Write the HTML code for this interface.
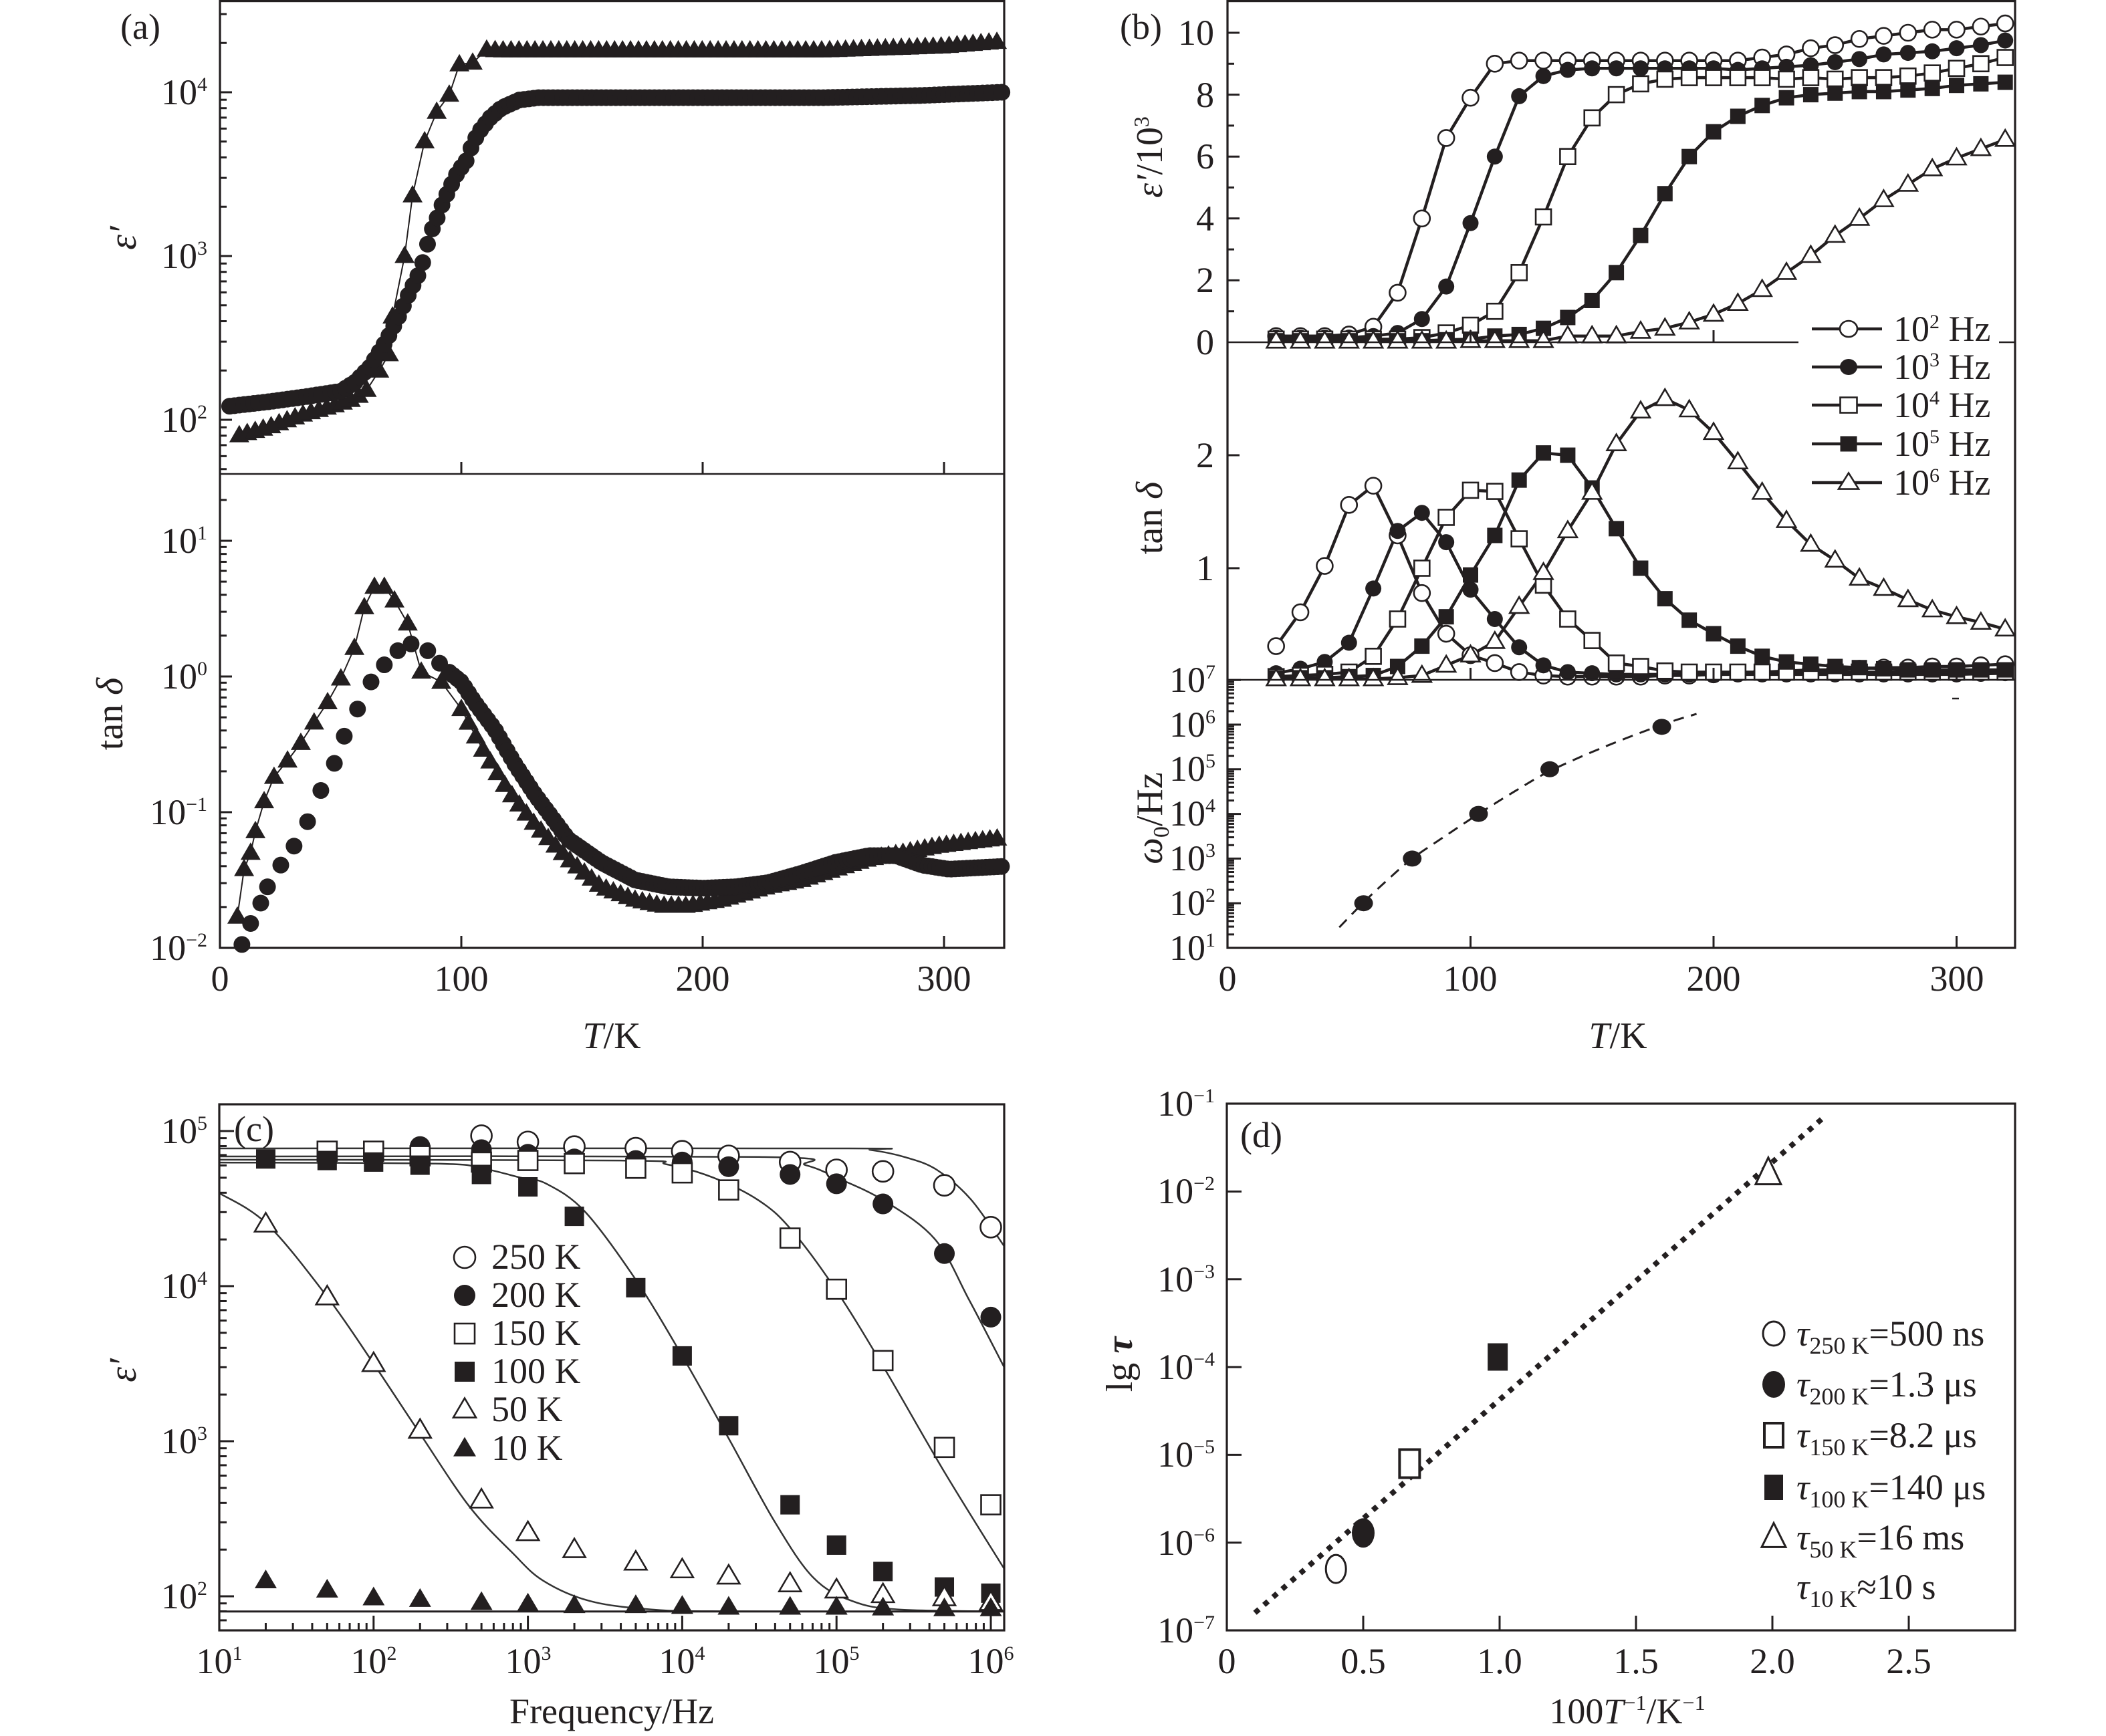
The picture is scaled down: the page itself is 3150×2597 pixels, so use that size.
<!DOCTYPE html>
<html><head><meta charset="utf-8">
<style>html,body{margin:0;padding:0;background:#fff;}svg{display:block;}</style>
</head>
<body>
<svg id="svg" xmlns="http://www.w3.org/2000/svg" width="3150" height="2597" viewBox="0 0 3150 2597" xml:space="preserve" font-family="'Liberation Serif','Times New Roman',serif" fill="#231f20">
<rect width="3150" height="2597" fill="#fff"/>
<g id="data"></g>
<g id="ticks"></g>
<g id="frames" fill="none" stroke="#231f20" stroke-width="3.2">
<rect x="329" y="1.6" width="1173" height="1416.4"/>
<line x1="329" y1="709" x2="1502" y2="709" stroke-width="2.6"/>
<rect x="1836" y="1.6" width="1178" height="1416.4"/>
<line x1="1836" y1="512" x2="3014" y2="512" stroke-width="2.6"/>
<line x1="1836" y1="1017" x2="3014" y2="1017" stroke-width="2.6"/>
<rect x="328" y="1652" width="1174" height="787"/>
<rect x="1835" y="1651" width="1179" height="788"/>
</g>
<g id="legend"></g>
<g id="text" font-size="54">
<!-- panel a -->
<text x="180" y="58">(a)</text>
<text x="329" y="1482" text-anchor="middle">0</text>
<text x="690" y="1482" text-anchor="middle">100</text>
<text x="1051" y="1482" text-anchor="middle">200</text>
<text x="1412" y="1482" text-anchor="middle">300</text>
<text x="310" y="156" text-anchor="end">10<tspan font-size="30" dy="-20">4</tspan></text>
<text x="310" y="401" text-anchor="end">10<tspan font-size="30" dy="-20">3</tspan></text>
<text x="310" y="646" text-anchor="end">10<tspan font-size="30" dy="-20">2</tspan></text>
<text x="310" y="827" text-anchor="end">10<tspan font-size="30" dy="-20">1</tspan></text>
<text x="310" y="1030" text-anchor="end">10<tspan font-size="30" dy="-20">0</tspan></text>
<text x="310" y="1233" text-anchor="end">10<tspan font-size="30" dy="-20">−1</tspan></text>
<text x="310" y="1436" text-anchor="end">10<tspan font-size="30" dy="-20">−2</tspan></text>
<text transform="translate(203,356) rotate(-90)" text-anchor="middle" font-size="58" font-style="italic">ε′</text>
<text transform="translate(183,1068) rotate(-90)" text-anchor="middle" font-size="56">tan <tspan font-style="italic">δ</tspan></text>
<text x="915" y="1568" text-anchor="middle" font-size="56"><tspan font-style="italic">T</tspan>/K</text>
<!-- panel b -->
<text x="1675" y="58">(b)</text>
<text x="1836" y="1482" text-anchor="middle">0</text>
<text x="2199" y="1482" text-anchor="middle">100</text>
<text x="2563" y="1482" text-anchor="middle">200</text>
<text x="2927" y="1482" text-anchor="middle">300</text>
<text x="1816" y="67" text-anchor="end">10</text>
<text x="1816" y="160" text-anchor="end">8</text>
<text x="1816" y="252" text-anchor="end">6</text>
<text x="1816" y="345" text-anchor="end">4</text>
<text x="1816" y="437" text-anchor="end">2</text>
<text x="1816" y="530" text-anchor="end">0</text>
<text x="1816" y="699" text-anchor="end">2</text>
<text x="1816" y="868" text-anchor="end">1</text>
<text x="1818" y="1035" text-anchor="end">10<tspan font-size="30" dy="-20">7</tspan></text>
<text x="1818" y="1102" text-anchor="end">10<tspan font-size="30" dy="-20">6</tspan></text>
<text x="1818" y="1168" text-anchor="end">10<tspan font-size="30" dy="-20">5</tspan></text>
<text x="1818" y="1235" text-anchor="end">10<tspan font-size="30" dy="-20">4</tspan></text>
<text x="1818" y="1302" text-anchor="end">10<tspan font-size="30" dy="-20">3</tspan></text>
<text x="1818" y="1369" text-anchor="end">10<tspan font-size="30" dy="-20">2</tspan></text>
<text x="1818" y="1436" text-anchor="end">10<tspan font-size="30" dy="-20">1</tspan></text>
<text transform="translate(1738,235) rotate(-90)" text-anchor="middle" font-size="56"><tspan font-style="italic">ε′</tspan>/10<tspan font-size="32" dy="-20">3</tspan></text>
<text transform="translate(1738,775) rotate(-90)" text-anchor="middle" font-size="56">tan <tspan font-style="italic">δ</tspan></text>
<text transform="translate(1738,1224) rotate(-90)" text-anchor="middle" font-size="56"><tspan font-style="italic">ω</tspan><tspan font-size="34" dy="10">0</tspan><tspan dy="-10">/Hz</tspan></text>
<text x="2420" y="1568" text-anchor="middle" font-size="56"><tspan font-style="italic">T</tspan>/K</text>
<text x="2832" y="510">10<tspan font-size="30" dy="-19">2</tspan><tspan dy="19"> Hz</tspan></text>
<text x="2832" y="567">10<tspan font-size="30" dy="-19">3</tspan><tspan dy="19"> Hz</tspan></text>
<text x="2832" y="624">10<tspan font-size="30" dy="-19">4</tspan><tspan dy="19"> Hz</tspan></text>
<text x="2832" y="682">10<tspan font-size="30" dy="-19">5</tspan><tspan dy="19"> Hz</tspan></text>
<text x="2832" y="740">10<tspan font-size="30" dy="-19">6</tspan><tspan dy="19"> Hz</tspan></text>
<!-- panel c -->
<text x="350" y="1707">(c)</text>
<text x="328" y="2503" text-anchor="middle">10<tspan font-size="30" dy="-20">1</tspan></text>
<text x="559" y="2503" text-anchor="middle">10<tspan font-size="30" dy="-20">2</tspan></text>
<text x="790" y="2503" text-anchor="middle">10<tspan font-size="30" dy="-20">3</tspan></text>
<text x="1020" y="2503" text-anchor="middle">10<tspan font-size="30" dy="-20">4</tspan></text>
<text x="1251" y="2503" text-anchor="middle">10<tspan font-size="30" dy="-20">5</tspan></text>
<text x="1482" y="2503" text-anchor="middle">10<tspan font-size="30" dy="-20">6</tspan></text>
<text x="310" y="1710" text-anchor="end">10<tspan font-size="30" dy="-20">5</tspan></text>
<text x="310" y="1942" text-anchor="end">10<tspan font-size="30" dy="-20">4</tspan></text>
<text x="310" y="2174" text-anchor="end">10<tspan font-size="30" dy="-20">3</tspan></text>
<text x="310" y="2406" text-anchor="end">10<tspan font-size="30" dy="-20">2</tspan></text>
<text transform="translate(203,2050) rotate(-90)" text-anchor="middle" font-size="58" font-style="italic">ε′</text>
<text x="915" y="2578" text-anchor="middle">Frequency/Hz</text>
<text x="735" y="1898">250 K</text>
<text x="735" y="1955">200 K</text>
<text x="735" y="2012">150 K</text>
<text x="735" y="2069">100 K</text>
<text x="735" y="2126">50 K</text>
<text x="735" y="2184">10 K</text>
<!-- panel d -->
<text x="1855" y="1716">(d)</text>
<text x="1835" y="2503" text-anchor="middle">0</text>
<text x="2039" y="2503" text-anchor="middle">0.5</text>
<text x="2243" y="2503" text-anchor="middle">1.0</text>
<text x="2447" y="2503" text-anchor="middle">1.5</text>
<text x="2651" y="2503" text-anchor="middle">2.0</text>
<text x="2855" y="2503" text-anchor="middle">2.5</text>
<text x="1817" y="1669" text-anchor="end">10<tspan font-size="30" dy="-20">−1</tspan></text>
<text x="1817" y="1800" text-anchor="end">10<tspan font-size="30" dy="-20">−2</tspan></text>
<text x="1817" y="1932" text-anchor="end">10<tspan font-size="30" dy="-20">−3</tspan></text>
<text x="1817" y="2063" text-anchor="end">10<tspan font-size="30" dy="-20">−4</tspan></text>
<text x="1817" y="2194" text-anchor="end">10<tspan font-size="30" dy="-20">−5</tspan></text>
<text x="1817" y="2326" text-anchor="end">10<tspan font-size="30" dy="-20">−6</tspan></text>
<text x="1817" y="2457" text-anchor="end">10<tspan font-size="30" dy="-20">−7</tspan></text>
<text transform="translate(1693,2041) rotate(-90)" text-anchor="middle" font-size="56">lg <tspan font-style="italic" font-weight="bold">τ</tspan></text>
<text x="2434" y="2578" text-anchor="middle">100<tspan font-style="italic">T</tspan><tspan font-size="32" dy="-20">−1</tspan><tspan dy="20">/K</tspan><tspan font-size="32" dy="-20">−1</tspan></text>
<text x="2687" y="2013"><tspan font-style="italic">τ</tspan><tspan font-size="36" dy="12">250 K</tspan><tspan dy="-12">=500 ns</tspan></text>
<text x="2687" y="2089"><tspan font-style="italic">τ</tspan><tspan font-size="36" dy="12">200 K</tspan><tspan dy="-12">=1.3 μs</tspan></text>
<text x="2687" y="2165"><tspan font-style="italic">τ</tspan><tspan font-size="36" dy="12">150 K</tspan><tspan dy="-12">=8.2 μs</tspan></text>
<text x="2687" y="2243"><tspan font-style="italic">τ</tspan><tspan font-size="36" dy="12">100 K</tspan><tspan dy="-12">=140 μs</tspan></text>
<text x="2687" y="2318"><tspan font-style="italic">τ</tspan><tspan font-size="36" dy="12">50 K</tspan><tspan dy="-12">=16 ms</tspan></text>
<text x="2687" y="2392"><tspan font-style="italic">τ</tspan><tspan font-size="36" dy="12">10 K</tspan><tspan dy="-12">≈10 s</tspan></text>
</g>
</svg>
<script>
(function(){
const NS='http://www.w3.org/2000/svg', INK='#231f20';
const D=document.getElementById('data'), L=document.getElementById('legend'), TK=document.getElementById('ticks');
function E(t,a,p){const e=document.createElementNS(NS,t);for(const k in a)e.setAttribute(k,a[k]);p.appendChild(e);return e;}
function ln(p,x1,y1,x2,y2,w,c){E('line',{x1:x1,y1:y1,x2:x2,y2:y2,stroke:c||INK,'stroke-width':w||3},p);}
function mk(p,type,x,y,s,h,sw){
  const open=type[0]==='o', sh=type[1];
  h=h||s;
  const a={fill:open?'#fff':INK,stroke:open?INK:'none','stroke-width':open?(sw||2.6):0};
  if(sh==='c'){a.cx=x;a.cy=y;a.rx=s/2;a.ry=h/2;E('ellipse',a,p);}
  else if(sh==='s'){a.x=x-s/2;a.y=y-h/2;a.width=s;a.height=h;E('rect',a,p);}
  else {a.points=x+','+(y-h*0.6)+' '+(x+s/2)+','+(y+h*0.4)+' '+(x-s/2)+','+(y+h*0.4);E('polygon',a,p);}
}
function interp(P,x){if(x<=P[0][0])return P[0][1];for(let i=1;i<P.length;i++){if(x<=P[i][0]){const a=P[i-1],b=P[i];return a[1]+(b[1]-a[1])*(x-a[0])/(b[0]-a[0]);}}return P[P.length-1][1];}
function cr(P){let d='M'+P[0][0]+','+P[0][1];for(let i=0;i<P.length-1;i++){const p0=P[i-1]||P[i],p1=P[i],p2=P[i+1],p3=P[i+2]||P[i+1];d+=' C'+(p1[0]+(p2[0]-p0[0])/6)+','+(p1[1]+(p2[1]-p0[1])/6)+' '+(p2[0]-(p3[0]-p1[0])/6)+','+(p2[1]-(p3[1]-p1[1])/6)+' '+p2[0]+','+p2[1];}return d;}
function pl(p,pts,w){return E('polyline',{points:pts.map(q=>q[0].toFixed(1)+','+q[1].toFixed(1)).join(' '),fill:'none',stroke:INK,'stroke-width':w,'stroke-linejoin':'round'},p);}
function logTicksY(x,yf,lo,hi,Lmaj,Lmin){for(let d=Math.floor(lo);d<=Math.ceil(hi);d++){for(let m=1;m<=9;m++){const l=d+Math.log10(m);if(l<lo-1e-6||l>hi+1e-6)continue;const y=yf(l);ln(TK,x,y,x+(m===1?Lmaj:Lmin),y,3);}}}
function logTicksX(y,xf,lo,hi,Lmaj,Lmin){for(let d=Math.floor(lo);d<=Math.ceil(hi);d++){for(let m=1;m<=9;m++){const l=d+Math.log10(m);if(l<lo-1e-6||l>hi+1e-6)continue;const x=xf(l);ln(TK,x,y,x,y-(m===1?Lmaj:Lmin),3);}}}

/* ---------- panel a ---------- */
const xa=T=>329+3.61*T, yaU=l=>138+(4-l)*245, yaL=l=>1418-(l+2)*203;
logTicksY(329,yaU,1.69,4.54,18,10);
logTicksY(329,yaL,-1.99,1.47,18,10);
[100,200,300].forEach(T=>{ln(TK,xa(T),1418,xa(T),1400,3);ln(TK,xa(T),709,xa(T),691,3);});
const AcU=[[4,2.083],[20,2.11],[35,2.14],[50,2.174],[56,2.23],[62,2.32],[69,2.485],[74,2.63],[78.5,2.776],[82,2.88],[85,3.0],[86.7,3.123],[89.8,3.225],[92.5,3.331],[95.8,3.433],[98.6,3.515],[101.9,3.577],[104.7,3.687],[107.5,3.761],[111.9,3.843],[116.6,3.904],[124.1,3.953],[132,3.967],[250,3.967],[290,3.98],[324,4.0]];
const AtU=[[8,1.905],[20,1.954],[34,2.03],[48,2.09],[56,2.13],[62,2.195],[66,2.3],[70,2.40],[71.5,2.63],[76.5,3.0],[79.8,3.37],[84.8,3.70],[89.8,3.88],[95,3.985],[99.2,4.17],[104.7,4.18],[110.5,4.26],[116,4.255],[250,4.255],[300,4.28],[324,4.31]];
let tU=[];for(let T=8;T<=62;T+=3.3)tU.push(T);[66,70,71.5,76.5,79.8,84.8,89.8,95,99.2,104.7,110.5].forEach(t=>tU.push(t));for(let T=114;T<=324;T+=3.3)tU.push(T);
pl(D,tU.map(T=>[xa(T),yaU(interp(AtU,T))]),2);
tU.forEach(T=>mk(D,'ft',xa(T),yaU(interp(AtU,T)),30,26));
for(let T=4;T<=324;T+=2)mk(D,'fc',xa(T),yaU(interp(AcU,T)),25);

const AtL=[[7.2,-1.77],[10,-1.42],[12.7,-1.30],[14.7,-1.14],[18.3,-0.92],[22.4,-0.74],[28,-0.62],[33.5,-0.49],[39,-0.34],[44.6,-0.19],[50.1,-0.015],[55.7,0.21],[59.8,0.51],[64,0.66],[68.1,0.66],[72.3,0.56],[77.8,0.39],[83.4,0.035],[91.7,-0.04],[100,-0.24],[108.3,-0.52],[119.4,-0.84],[130.5,-1.09],[144.3,-1.345],[158,-1.55],[172,-1.645],[183,-1.69],[194,-1.69],[208,-1.645],[227,-1.55],[241,-1.50],[255,-1.42],[269,-1.345],[283,-1.30],[297,-1.25],[324,-1.19]];
const AcL=[[9.1,-1.975],[12.7,-1.82],[16.9,-1.67],[19.7,-1.55],[25.2,-1.39],[30.7,-1.25],[36.3,-1.07],[41.8,-0.84],[47.4,-0.64],[51.5,-0.44],[57,-0.24],[62.6,-0.04],[68.1,0.086],[73.7,0.19],[79.2,0.24],[86.1,0.19],[93,0.06],[100,-0.04],[105.5,-0.19],[113.9,-0.39],[122,-0.64],[130.5,-0.87],[144.3,-1.20],[158,-1.37],[172,-1.50],[186,-1.55],[200,-1.56],[213.6,-1.55],[227,-1.52],[241,-1.45],[255,-1.37],[269,-1.32],[280,-1.32],[291,-1.39],[302,-1.42],[324,-1.40]];
let tL=AtL.filter(p=>p[0]<=100).map(p=>p[0]);for(let T=103;T<=324;T+=3)tL.push(T);
pl(D,tL.map(T=>[xa(T),yaL(interp(AtL,T))]),2);
tL.forEach(T=>mk(D,'ft',xa(T),yaL(interp(AtL,T)),30,26));
let cL=[9.1,12.7,16.9,19.7,25.2,30.7,36.3,41.8,47.4,51.5,57,62.6,68.1,73.7,79.2,86.1,91];for(let T=95;T<=324;T+=1.6)cL.push(T);
cL.forEach(T=>mk(D,'fc',xa(T),yaL(interp(AcL,T)),25));

/* ---------- panel b ---------- */
const xb=T=>1836+3.635*T, yb1=v=>512-46.3*v, yb2=v=>1019-169*v, yb3=l=>1418-(l-1)*66.8;
[100,200,300].forEach(T=>{[1418,1017,512].forEach(y=>ln(TK,xb(T),y,xb(T),y-18,3));});
[2,4,6,8,10].forEach(v=>ln(TK,1836,yb1(v),1854,yb1(v),3));
[1,3,5,7,9].forEach(v=>ln(TK,1836,yb1(v),1846,yb1(v),3));
[1,2].forEach(v=>ln(TK,1836,yb2(v),1854,yb2(v),3));
logTicksY(1836,yb3,1,7,20,10);
const Ts=[];for(let T=20;T<=320;T+=10)Ts.push(T);
const E2=[0.2,0.2,0.2,0.25,0.5,1.6,4.0,6.6,7.9,9.0,9.1,9.1,9.1,9.1,9.1,9.1,9.1,9.1,9.1,9.1,9.2,9.3,9.5,9.6,9.8,9.9,10.0,10.1,10.1,10.2,10.3];
const E3=[0.15,0.15,0.15,0.15,0.2,0.3,0.75,1.8,3.85,6.0,7.95,8.6,8.8,8.85,8.85,8.85,8.85,8.85,8.85,8.8,8.85,8.9,8.95,9.05,9.15,9.3,9.35,9.4,9.5,9.6,9.75];
const E4=[0.1,0.1,0.1,0.1,0.1,0.1,0.15,0.3,0.55,1.0,2.25,4.05,6.0,7.25,8.0,8.35,8.5,8.55,8.55,8.55,8.55,8.5,8.55,8.5,8.55,8.55,8.6,8.7,8.85,9.0,9.2];
const E5=[0.05,0.05,0.05,0.05,0.05,0.05,0.05,0.08,0.1,0.2,0.25,0.45,0.8,1.35,2.25,3.45,4.8,6.0,6.8,7.3,7.65,7.9,8.0,8.05,8.1,8.1,8.15,8.2,8.3,8.35,8.4];
const E6=[0.03,0.03,0.03,0.03,0.03,0.03,0.03,0.03,0.05,0.05,0.05,0.05,0.2,0.2,0.2,0.35,0.45,0.65,0.9,1.25,1.7,2.25,2.8,3.45,4.0,4.6,5.1,5.6,5.95,6.25,6.55];
const D2=[0.31,0.61,1.02,1.56,1.73,1.29,0.78,0.42,0.23,0.16,0.08,0.05,0.04,0.04,0.04,0.04,0.05,0.05,0.06,0.07,0.08,0.09,0.1,0.1,0.11,0.12,0.12,0.13,0.13,0.14,0.15];
const D3=[0.07,0.11,0.17,0.34,0.82,1.33,1.49,1.23,0.81,0.55,0.3,0.14,0.08,0.07,0.06,0.06,0.06,0.06,0.06,0.06,0.06,0.06,0.06,0.06,0.06,0.06,0.06,0.06,0.06,0.065,0.07];
const D4=[0.04,0.05,0.06,0.08,0.22,0.55,1.0,1.45,1.69,1.68,1.26,0.85,0.55,0.36,0.16,0.13,0.09,0.08,0.08,0.08,0.08,0.08,0.08,0.08,0.08,0.08,0.08,0.08,0.08,0.08,0.08];
const D5=[0.03,0.03,0.03,0.04,0.05,0.13,0.31,0.57,0.94,1.29,1.78,2.02,2.0,1.71,1.35,1.0,0.73,0.54,0.42,0.31,0.22,0.17,0.15,0.13,0.12,0.11,0.1,0.1,0.1,0.1,0.1];
const D6=[0.02,0.02,0.02,0.02,0.02,0.03,0.05,0.14,0.23,0.35,0.66,0.96,1.33,1.67,2.1,2.39,2.5,2.4,2.2,1.94,1.67,1.42,1.21,1.07,0.91,0.82,0.72,0.63,0.57,0.52,0.46];
const types=['oc','fc','os','fs','ot'];
function bsize(k){return k<2?[24,24]:(k<4?[23,23]:[28,24]);}
[[[E2,E3,E4,E5,E6],yb1],[[D2,D3,D4,D5,D6],yb2]].forEach(pair=>{
  const sets=pair[0], yf=pair[1];
  sets.forEach(arr=>pl(D,Ts.map((T,i)=>[xb(T),yf(arr[i])]),4.5));
  sets.forEach((arr,k)=>{const s=bsize(k);Ts.forEach((T,i)=>mk(D,types[k],xb(T),yf(arr[i]),s[0],s[1],2.6));});
});
const wc=[[46,1.46],[56,2.02],[66,2.53],[76,3.0],[90,3.52],[103.3,4.0],[118,4.5],[133,4.97],[155,5.5],[179,6.0],[193,6.24]];
E('path',{d:cr(wc.map(p=>[xb(p[0]),yb3(p[1])])),fill:'none',stroke:INK,'stroke-width':3,'stroke-dasharray':'16 11'},D);
[[56,2],[76,3],[103.3,4],[132.6,5],[178.7,5.95]].forEach(p=>mk(D,'fc',xb(p[0]),yb3(p[1]),28,24));
ln(D,2920,1045,2930,1045,2.5);

/* legend b */
E('rect',{x:2690,y:468,width:300,height:284,fill:'#fff'},L);
[492,549,606,664,722].forEach((r,k)=>{ln(L,2710,r,2815,r,4.5);const s=bsize(k);mk(L,types[k],2765,r,s[0]+2,s[1],2.6);});

/* ---------- panel c ---------- */
const xc=l=>328+(l-1)*230.8, yc=l=>2388-(l-2)*232;
logTicksY(328,yc,1.79,5.16,22,11);
logTicksX(2439,xc,1.0001,6.08,22,11);
const curves=[
 [[1,4.888],[5.0,4.888],[5.22,4.878],[5.45,4.83],[5.65,4.75],[5.87,4.56],[6.085,4.26]],
 [[1,4.836],[4.5,4.833],[4.8,4.78],[5.0,4.70],[5.31,4.55],[5.64,4.30],[5.86,3.91],[6.085,3.48]],
 [[1,4.815],[3.6,4.81],[3.9,4.785],[4.2,4.70],[4.5,4.55],[4.71,4.36],[5.0,3.97],[5.31,3.47],[5.70,2.80],[6.085,2.18]],
 [[1,4.797],[2.4,4.79],[2.7,4.76],[2.95,4.70],[3.12,4.66],[3.37,4.48],[3.7,4.04],[4.0,3.55],[4.3,3.02],[4.6,2.48],[4.85,2.12],[5.1,1.97],[5.4,1.915],[6.085,1.902]],
 [[1,4.6],[1.31,4.40],[1.70,3.93],[2.0,3.50],[2.3,3.05],[2.62,2.58],[2.9,2.28],[3.1,2.1],[3.4,1.97],[3.8,1.915],[4.3,1.903],[6.085,1.902]]
];
curves.forEach(c=>E('path',{d:cr(c.map(p=>[xc(p[0]),yc(p[1])])),fill:'none',stroke:'#333','stroke-width':2.5},D));
ln(D,329,yc(1.902),1501,yc(1.902),3);
const C=[
 ['oc',[[500,4.97],[1e3,4.93],[2e3,4.90],[5e3,4.89],[1e4,4.87],[2e4,4.84],[5e4,4.80],[1e5,4.75],[2e5,4.74],[5e5,4.65],[1e6,4.38]]],
 ['fc',[[200,4.90],[500,4.88],[1e3,4.85],[2e3,4.82],[5e3,4.81],[1e4,4.80],[2e4,4.77],[5e4,4.72],[1e5,4.66],[2e5,4.53],[5e5,4.21],[1e6,3.80]]],
 ['os',[[50,4.87],[100,4.87],[200,4.84],[500,4.80],[1e3,4.81],[2e3,4.79],[5e3,4.76],[1e4,4.73],[2e4,4.62],[5e4,4.31],[1e5,3.98],[2e5,3.52],[5e5,2.96],[1e6,2.59]]],
 ['fs',[[20,4.82],[50,4.81],[100,4.80],[200,4.78],[500,4.72],[1e3,4.64],[2e3,4.45],[5e3,3.99],[1e4,3.55],[2e4,3.10],[5e4,2.59],[1e5,2.33],[2e5,2.16],[5e5,2.06],[1e6,2.02]]],
 ['ot',[[20,4.40],[50,3.93],[100,3.50],[200,3.07],[500,2.62],[1e3,2.41],[2e3,2.30],[5e3,2.22],[1e4,2.17],[2e4,2.13],[5e4,2.08],[1e5,2.04],[2e5,2.01],[5e5,1.99],[1e6,1.96]]],
 ['ft',[[20,2.10],[50,2.04],[100,1.99],[200,1.98],[500,1.96],[1e3,1.95],[2e3,1.94],[5e3,1.94],[1e4,1.935],[2e4,1.93],[5e4,1.93],[1e5,1.93],[2e5,1.925],[5e5,1.92],[1e6,1.92]]]
];
function csize(t){return t[1]==='c'?[31,31]:(t[1]==='s'?[29,29]:[33,28]);}
C.forEach(s=>{const z=csize(s[0]);s[1].forEach(p=>mk(D,s[0],xc(Math.log10(p[0])),yc(p[1]),z[0],z[1],2.6));});
[1881,1938,1995,2052,2109,2167].forEach((r,k)=>{const t=C[k][0];const z=csize(t);mk(L,t,695,r,z[0]+1,z[1]+1,2.6);});

/* ---------- panel d ---------- */
const xd=u=>1835+408*u, yd=l=>2439-(l+7)*131.3;
for(let l=-6;l<=-2;l++)ln(TK,1835,yd(l),1857,yd(l),3);
[0.5,1,1.5,2,2.5].forEach(u=>ln(TK,xd(u),2439,xd(u),2417,3));
E('line',{x1:xd(0.103),y1:yd(-6.80),x2:xd(2.19),y2:yd(-1.15),stroke:INK,'stroke-width':8,'stroke-dasharray':'8 10'},D);
mk(D,'oc',xd(0.40),yd(-6.30),30,42,3);
mk(D,'fc',xd(0.5),yd(-5.89),34,44);
mk(D,'os',xd(0.67),yd(-5.10),30,42,4);
mk(D,'fs',xd(0.993),yd(-3.885),30,41);
mk(D,'ot',xd(1.985),yd(-1.795),38,40,3);
mk(L,'oc',2653,1995,32,36,3);
mk(L,'fc',2653,2071,34,40);
mk(L,'os',2653,2147,28,36,4);
mk(L,'fs',2653,2225,28,38);
mk(L,'ot',2653,2300,36,36,3);
})();
</script>
</body></html>
